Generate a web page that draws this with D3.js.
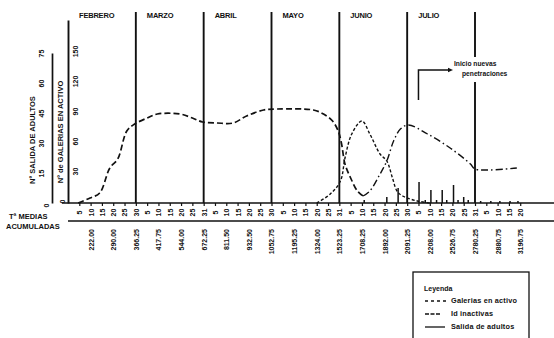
<!DOCTYPE html>
<html><head><meta charset="utf-8">
<script src="https://cdn.jsdelivr.net/npm/d3@7"></script>
<style>body{margin:0;background:#fff}svg{display:block}text{font-family:"Liberation Sans",Arial,sans-serif;font-weight:bold;fill:#111}</style>
</head><body><svg id="c" width="554" height="338"></svg>
<script>
// ---- data ----
const months = ["FEBRERO","MARZO","ABRIL","MAYO","JUNIO","JULIO"];
// position unit = one 5-day step; month k ends at 6*(k+1)
const dayLabels = ["5","10","15","20","25","30","5","10","15","20","25","31","5","10","15","20","25","30",
                   "5","10","15","20","25","31","5","10","15","20","25","30","5","10","15","20","25","31",
                   "5","10","15","20"];
const tempLabels = ["222.00","290.00","366.25","417.75","544.00","672.25","811.50","932.50","1052.75","1195.25",
                    "1324.00","1523.25","1708.25","1892.00","2091.25","2208.00","2526.75","2780.25","2880.75","3196.75"];
const galeriasTicks = [0,30,60,90,120,150];
const adultosTicks = [0,15,30,45,60,75];
// Galerías en activo (1ª generación)
const activo1T = [0.9,1.95,2.8,3.7,4.4,5.2,5.9,7.0,7.9,9.9,11,11.9,13.2,14.6,15.8,17.3,18.5,21.7,22.6,23.4,23.9,24.2,24.5,25,25.6,26.1];
const activo1V = [0,5,10,35,44,72,79,85,89,89,85,81,80,80,87,93,94,93,89,82,72,59,39,25,12,7];
// Galerías en activo (nuevas penetraciones)
const activo2T = [26.1,26.7,27.6,28.2,28.8,29.4,30.1,31.8,33.8,35.6,36,39.7];
const activo2V = [7,12,29,42,62,74,78,69,55,39,34,35];
// Id. inactivas
const inactT = [22,23.2,24.1,24.5,25.1,26,26.7,27.6,28.2,28.7,29.1,29.6,30.9,32];
const inactV = [0,9,22,45,69,82,69,49,42,25,12,7,2,0];
// Salida de adultos
const adultT = [26.2,28.2,29.2,31.05,31.6,32.1,32.6,33.1,33.5,34.1,34.5,35,35.4,36.5,37.4,38.2,39.1,39.8];
const adultV = [1.5,3,7.5,10.5,1.5,6.5,1.5,6.5,1.5,9,1.5,3,1.5,1,1,1,1,1];

// ---- scales ----
const svg = d3.select("#c");
const x = d3.scaleLinear().domain([0,36]).range([68,475]);
const yG = d3.scaleLinear().domain([0,183]).range([203,20]);
const yA = d3.scaleLinear().domain([0,75]).range([203,53]);
const F = "Liberation Sans";

// baseline & lower rule
svg.append("line").attr("x1",62).attr("x2",554).attr("y1",yG(0)).attr("y2",yG(0)).attr("stroke","#111").attr("stroke-width",1.7);
svg.append("line").attr("x1",x(0)).attr("x2",554).attr("y1",221).attr("y2",221).attr("stroke","#111").attr("stroke-width",1.5);

// bottom day axis
const pos = d3.range(1, dayLabels.length+1);
const xAxis = d3.axisBottom(x).tickValues(pos).tickSize(3).tickFormat((d,i)=>dayLabels[i]);
const gx = svg.append("g").attr("transform",`translate(0,${yG(0)})`).call(xAxis);
gx.select(".domain").remove();
gx.selectAll("line").attr("stroke","#111").attr("stroke-width",1.2);
gx.selectAll("text").attr("y",0).attr("dy","0.35em").attr("transform","translate(0,9.5) rotate(-90)")
  .attr("text-anchor","middle").style("font-size","7px").style("font-family",F).style("font-weight","bold").attr("fill","#111");

// temperature labels
const tAxis = d3.axisBottom(x).tickValues(tempLabels.map((d,i)=>2*(i+1))).tickSize(0).tickFormat((d,i)=>tempLabels[i]);
const gt = svg.append("g").attr("transform","translate(0,229)").call(tAxis);
gt.select(".domain").remove();
gt.selectAll("text").attr("y",0).attr("dy","0.35em").attr("transform","rotate(-90)")
  .attr("text-anchor","end").style("font-size","7px").style("font-family",F).style("font-weight","bold").attr("fill","#111");

svg.append("text").attr("x",9).attr("y",219).style("font-size","7.5px").text("Tª MEDIAS");
svg.append("text").attr("x",6).attr("y",228.5).style("font-size","7.5px").text("ACUMULADAS");

// inner axis (galerias)
const gG = svg.append("g").attr("transform",`translate(${x(0)},0)`).call(d3.axisRight(yG).tickValues(galeriasTicks).tickSize(0).tickSizeOuter(0));
gG.select(".domain").attr("stroke","#111").attr("stroke-width",1.9);
gG.selectAll("text").attr("x",0).attr("dy","0.35em")
  .attr("transform",d=> d===0 ? "translate(-5,-2) rotate(-90)" : "translate(8,-2) rotate(-90)")
  .attr("text-anchor","middle").style("font-size","7px").style("font-family",F).style("font-weight","bold").attr("fill","#111");

// outer axis (adultos)
const gA = svg.append("g").attr("transform","translate(52,0)").call(d3.axisLeft(yA).tickValues(adultosTicks).tickSize(0).tickSizeOuter(0));
gA.select(".domain").attr("stroke","#111").attr("stroke-width",1.7);
gA.selectAll("text").attr("x",0).attr("dy","0.35em")
  .attr("transform",d=> d===0 ? "translate(-5,2) rotate(-90)" : "translate(-10,0) rotate(-90)")
  .attr("text-anchor","middle").style("font-size","7px").style("font-family",F).style("font-weight","bold").attr("fill","#111");

// axis titles
svg.append("text").attr("transform","translate(35,140) rotate(-90)").attr("text-anchor","middle").style("font-size","7.5px").text("Nº SALIDA DE ADULTOS");
svg.append("text").attr("transform","translate(62.5,132) rotate(-90)").attr("text-anchor","middle").style("font-size","7.5px").text("Nº de GALERIAS EN ACTIVO");

// month lines and labels
months.forEach((m,i)=>{
  svg.append("text").attr("x",x(6*i)+11).attr("y",18).style("font-size","7.5px").style("letter-spacing","-0.2px").text(m);
  svg.append("line").attr("x1",x(6*(i+1))).attr("x2",x(6*(i+1))).attr("y1",12).attr("y2",yG(0))
    .attr("stroke","#111").attr("stroke-width",1.9);
});

// lines
const line = (T,V,ys)=>d3.line().x((d,i)=>x(T[i])).y((d,i)=>ys(V[i])).curve(d3.curveCatmullRom)(T);
svg.append("path").attr("d",line(activo1T,activo1V,yG)).attr("fill","none").attr("stroke","#111").attr("stroke-width",1.7).attr("stroke-dasharray","6,3");
svg.append("path").attr("d",line(activo2T,activo2V,yG)).attr("fill","none").attr("stroke","#111").attr("stroke-width",1.4).attr("stroke-dasharray","7,3,1.5,3");
svg.append("path").attr("d",line(inactT,inactV,yG)).attr("fill","none").attr("stroke","#111").attr("stroke-width",1.4).attr("stroke-dasharray","3,2");

// adult bars
svg.selectAll(".bar").data(adultT).enter().append("line").attr("class","bar")
  .attr("x1",d=>x(d)).attr("x2",d=>x(d)).attr("y1",yA(0)).attr("y2",(d,i)=>yA(adultV[i]))
  .attr("stroke","#111").attr("stroke-width",1.5);

// annotation
const ax = x(31);
svg.append("rect").attr("x",452).attr("y",57).attr("width",62).attr("height",25).attr("fill","#fff");
svg.append("path").attr("d",`M${ax},100V70H449`).attr("fill","none").attr("stroke","#111").attr("stroke-width",1.5);
svg.append("path").attr("d","M453,70l-5,-2.2v4.4z").attr("fill","#111");
svg.append("text").attr("x",454).attr("y",66).style("font-size","6.7px").text("Inicio nuevas");
svg.append("text").attr("x",462).attr("y",76).style("font-size","6.7px").text("penetraciones");

// legend
svg.append("rect").attr("x",413).attr("y",272).attr("width",116).attr("height",80).attr("fill","none").attr("stroke","#111").attr("stroke-width",1.3);
svg.append("text").attr("x",424).attr("y",291).style("font-size","7px").text("Leyenda");
const leg = [["Galerias en activo","3,3",303],["Id  inactivas","4,1.5",316],["Salida de adultos",null,329]];
leg.forEach(([t,da,yy])=>{
  const l = svg.append("line").attr("x1",425).attr("x2",da==="4,1.5"?441:(da?449:445)).attr("y1",yy-2).attr("y2",yy-2).attr("stroke","#111").attr("stroke-width",1.3);
  if(da) l.attr("stroke-dasharray",da);
  svg.append("text").attr("x",451).attr("y",yy).style("font-size","7.3px").style("letter-spacing","0.2px").text(t);
});
</script></body></html>
